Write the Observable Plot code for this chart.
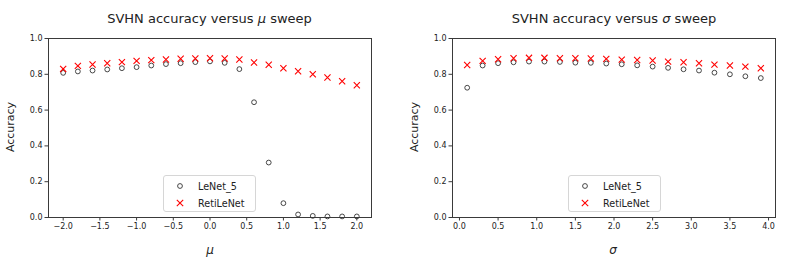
<!DOCTYPE html>
<html>
<head>
<meta charset="utf-8">
<script src="https://cdn.jsdelivr.net/npm/d3@7"></script>
<script src="https://cdn.jsdelivr.net/npm/@observablehq/plot@0.6"></script>
<style>
  html, body { margin: 0; padding: 0; background: #fff; }
  #wrap { position: relative; width: 789px; height: 264px; font-family: "DejaVu Sans", sans-serif; color: #222; overflow: hidden; }
  .panel { position: absolute; top: 0; }
  .title { position: absolute; top: 11px; font-size: 13px; white-space: nowrap; transform: translateX(-50%); }
  .ylab { position: absolute; font-size: 11px; white-space: nowrap; transform: translate(-50%, -50%) rotate(-90deg); }
  .xlab { position: absolute; font-size: 12px; font-style: italic; transform: translate(-50%, -50%); }
  .legend { position: absolute; border: 1px solid #d6d6d6; border-radius: 3px; background: rgba(255,255,255,0.85); font-size: 9.6px; box-sizing: border-box; }
  .legend .row { position: absolute; left: 0; white-space: nowrap; }
  .legend svg { position: absolute; }
  .legend span { position: absolute; transform: translateY(-50%); }
</style>
</head>
<body>
<div id="wrap"></div>
<script>
// ---- data ----
const muValues = [-2.0, -1.8, -1.6, -1.4, -1.2, -1.0, -0.8, -0.6, -0.4, -0.2, 0.0, 0.2, 0.4, 0.6, 0.8, 1.0, 1.2, 1.4, 1.6, 1.8, 2.0];
const muLeNet5 = [0.808, 0.816, 0.821, 0.827, 0.834, 0.840, 0.849, 0.857, 0.862, 0.868, 0.872, 0.864, 0.829, 0.644, 0.307, 0.080, 0.017, 0.009, 0.006, 0.006, 0.006];
const muRetiLeNet = [0.830, 0.847, 0.855, 0.862, 0.868, 0.875, 0.879, 0.883, 0.887, 0.888, 0.890, 0.888, 0.883, 0.866, 0.853, 0.834, 0.817, 0.800, 0.782, 0.761, 0.739];

const sigmaValues = [0.1, 0.3, 0.5, 0.7, 0.9, 1.1, 1.3, 1.5, 1.7, 1.9, 2.1, 2.3, 2.5, 2.7, 2.9, 3.1, 3.3, 3.5, 3.7, 3.9];
const sigmaLeNet5 = [0.725, 0.849, 0.862, 0.867, 0.871, 0.871, 0.869, 0.865, 0.864, 0.860, 0.856, 0.850, 0.843, 0.836, 0.828, 0.821, 0.809, 0.800, 0.789, 0.779];
const sigmaRetiLeNet = [0.852, 0.875, 0.884, 0.890, 0.892, 0.892, 0.890, 0.890, 0.888, 0.886, 0.882, 0.880, 0.877, 0.871, 0.867, 0.862, 0.854, 0.849, 0.843, 0.834];

const muTicks = [-2.0, -1.5, -1.0, -0.5, 0.0, 0.5, 1.0, 1.5, 2.0];
const sigmaTicks = [0.0, 0.5, 1.0, 1.5, 2.0, 2.5, 3.0, 3.5, 4.0];
const yTicks = [0.0, 0.2, 0.4, 0.6, 0.8, 1.0];
const seriesNames = ["LeNet_5", "RetiLeNet"];
const titles = ["SVHN accuracy versus ", " sweep"];

const wrap = document.getElementById("wrap");
const fmt = d3.format(".1f");

function panel({left, width, mL, mR, xs, a, b, xDomain, xTicks}) {
  const rowsA = xs.map((x, i) => ({x, y: a[i]}));
  const rowsB = xs.map((x, i) => ({x, y: b[i]}));
  const svg = Plot.plot({
    width, height: 264,
    marginLeft: mL, marginRight: mR, marginTop: 38, marginBottom: 47,
    style: {fontFamily: "DejaVu Sans, sans-serif", fontSize: "8px", color: "#222", background: "transparent"},
    x: {domain: xDomain},
    y: {domain: [0, 1]},
    marks: [
      Plot.frame({stroke: "#3a3a3a", strokeWidth: 1}),
      Plot.axisX({ticks: xTicks, tickFormat: fmt, tickSize: 3.5, tickPadding: 2.5, label: null, fontSize: 8, stroke: "#3a3a3a"}),
      Plot.axisY({ticks: yTicks, tickFormat: fmt, tickSize: 3.5, tickPadding: 2.5, label: null, fontSize: 8, stroke: "#3a3a3a"}),
      Plot.dot(rowsA, {x: "x", y: "y", r: 2.4, stroke: "#333", strokeWidth: 0.9, fill: "none"}),
      Plot.dot(rowsB, {x: "x", y: "y", symbol: "times", r: 2.9, stroke: "red", strokeWidth: 1.1})
    ]
  });
  svg.classList.add("panel");
  svg.style.left = left + "px";
  wrap.appendChild(svg);
}

panel({left: 0, width: 394, mL: 48, mR: 23, xs: muValues, a: muLeNet5, b: muRetiLeNet, xDomain: [-2.2, 2.2], xTicks: muTicks});
panel({left: 394, width: 395, mL: 58, mR: 14, xs: sigmaValues, a: sigmaLeNet5, b: sigmaRetiLeNet, xDomain: [-0.09, 4.09], xTicks: sigmaTicks});

function addText(cls, html, x, y) {
  const d = document.createElement("div");
  d.className = cls;
  d.innerHTML = html;
  d.style.left = x + "px";
  d.style.top = y + "px";
  wrap.appendChild(d);
}
addText("title", titles[0] + "<i>μ</i>" + titles[1], 209.5, 11);
addText("title", titles[0] + "<i>σ</i>" + titles[1], 614, 11);
addText("ylab", "Accuracy", 10, 127);
addText("ylab", "Accuracy", 414, 127);
addText("xlab", "μ", 210, 250);
addText("xlab", "σ", 613, 250);

function legend(x, y) {
  const box = document.createElement("div");
  box.className = "legend";
  box.style.left = x + "px";
  box.style.top = y + "px";
  box.style.width = "93px";
  box.style.height = "37px";
  const rowsY = [10, 27];
  seriesNames.forEach((name, i) => {
    const s = document.createElementNS("http://www.w3.org/2000/svg", "svg");
    s.setAttribute("width", 10); s.setAttribute("height", 10);
    s.style.left = "11px"; s.style.top = (rowsY[i] - 5) + "px";
    if (i === 0) {
      s.innerHTML = '<circle cx="5" cy="5" r="2.4" fill="none" stroke="#333" stroke-width="0.9"/>';
    } else {
      s.innerHTML = '<path d="M1.8,1.8L8.2,8.2M1.8,8.2L8.2,1.8" stroke="red" stroke-width="1.1"/>';
    }
    box.appendChild(s);
    const t = document.createElement("span");
    t.textContent = name;
    t.style.left = "34px";
    t.style.top = rowsY[i] + "px";
    box.appendChild(t);
  });
  wrap.appendChild(box);
}
legend(163, 175);
legend(568, 175);
</script>
</body>
</html>
